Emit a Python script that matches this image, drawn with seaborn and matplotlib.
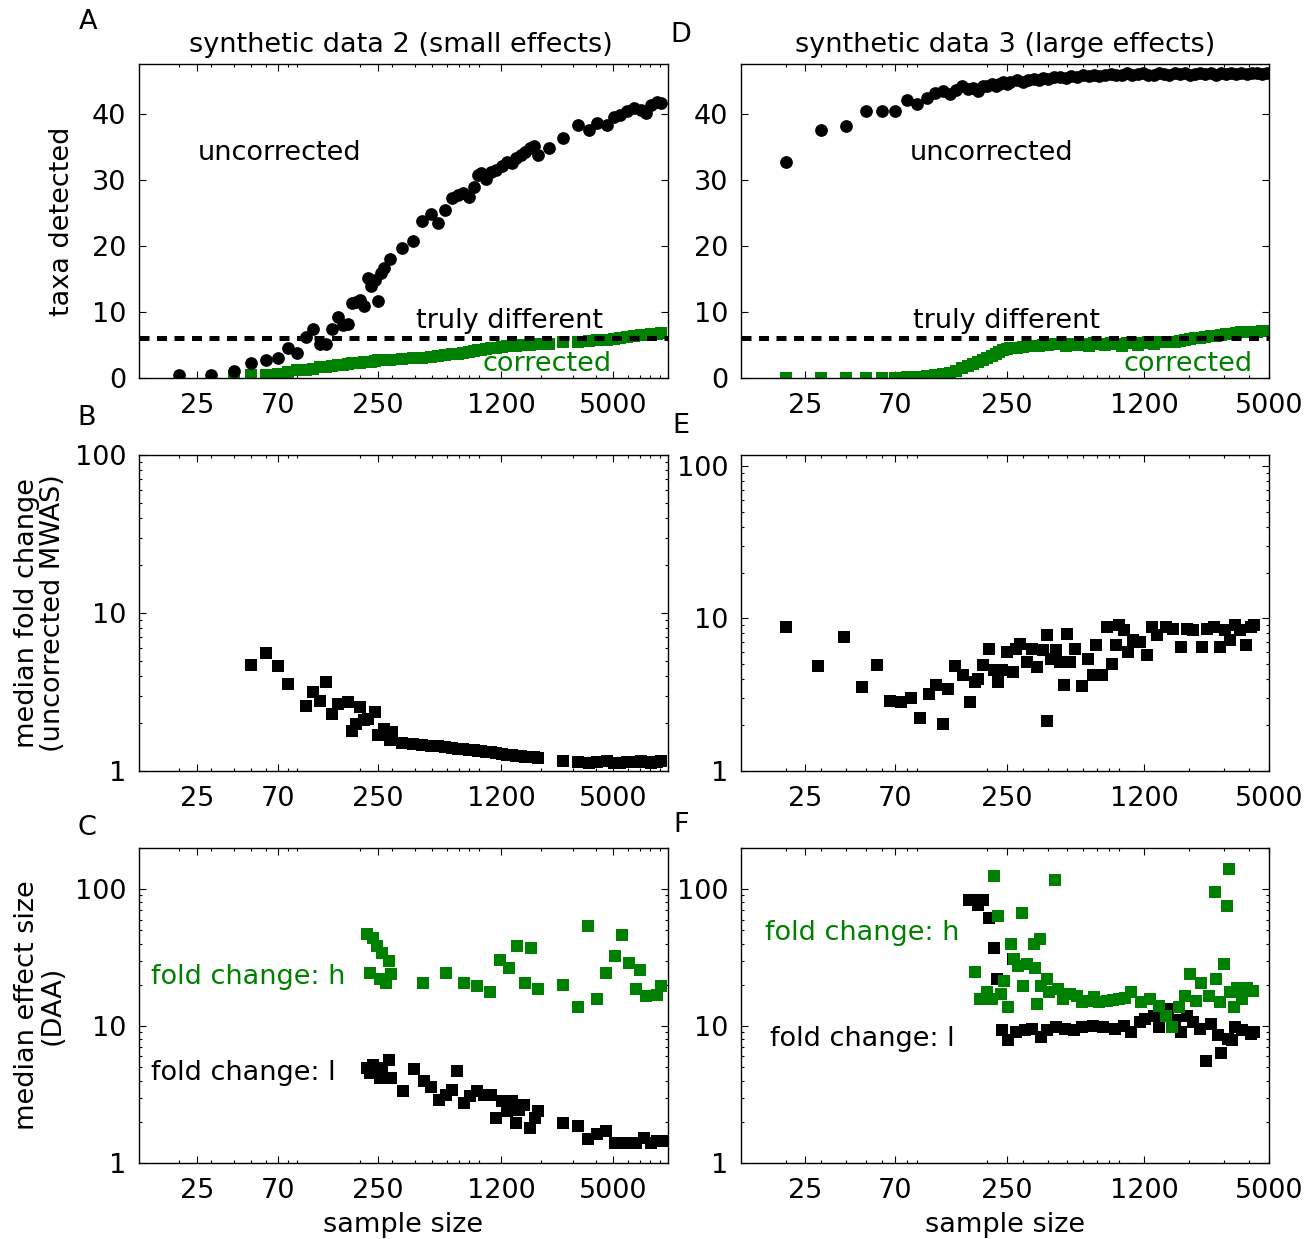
import matplotlib
matplotlib.use("Agg")
import matplotlib.pyplot as plt
import seaborn as sns
from matplotlib.ticker import NullFormatter, FixedLocator

# ---------------- data ----------------
# Panel A (synthetic data 2): taxa detected
A_x = [20, 30, 40, 50, 60, 70, 80, 90, 100, 110, 120, 130, 140, 150, 160, 170, 180, 190, 200,
       210, 220, 230, 240, 250, 260, 270,
       290, 340, 390, 440, 490, 540, 590, 640, 690, 740,
       800, 850, 890, 930, 990,
       1060, 1130, 1210, 1290, 1380, 1440, 1540, 1630, 1720, 1820, 1920,
       2190, 2620, 3200, 3650, 4070, 4590, 5010, 5430, 5940, 6490, 7080, 7570, 8090, 8650, 9160]
A_uncorrected = [0.5, 0.5, 1.1, 2.3, 2.8, 3.1, 4.5, 3.8, 6.2, 7.5, 5.2, 5.1, 7.5, 9.3, 8.1, 8.2, 11.4, 11.5, 11.9,
                 10.9, 15.2, 14.0, 14.9, 11.6, 15.9, 16.7,
                 18.0, 19.7, 20.8, 23.8, 24.8, 23.5, 25.4, 27.3, 27.7, 28.0,
                 27.5, 29.0, 30.8, 31.1, 30.1,
                 31.3, 31.6, 32.1, 32.8, 32.6, 33.3, 33.8, 34.3, 34.8, 35.1, 33.8,
                 34.8, 36.4, 38.4, 37.6, 38.6, 38.4, 39.6, 39.9, 40.4, 40.9, 40.7, 40.2, 41.4, 41.9, 41.7]
A_x_corr = A_x[2:]
A_corrected = [0.3, 0.4, 0.5, 0.65, 0.9, 1.15, 1.2, 1.3, 1.6, 1.7, 1.8, 1.9, 2.0, 2.1, 2.2, 2.2, 2.3,
               2.4, 2.5, 2.5, 2.6, 2.7, 2.7, 2.8,
               2.8, 2.9, 3.0, 3.1, 3.2, 3.3, 3.5, 3.6, 3.7, 3.8,
               4.0, 4.1, 4.2, 4.3, 4.4,
               4.5, 4.5, 4.7, 4.8, 4.9, 4.9, 5.0, 5.0, 5.0, 5.1, 5.1,
               5.1, 5.5, 5.5, 5.6, 5.7, 5.8, 5.9, 6.0, 6.2, 6.4, 6.5, 6.5, 6.6, 6.7, 6.8]

# Panel D (synthetic data 3): taxa detected
D_x = [20, 30, 40, 50, 60, 70, 80, 90, 100, 110, 120, 130, 140, 150, 160, 170, 180, 190,
       200, 210, 220, 230, 240, 250, 260, 280, 300, 320, 340, 360, 380, 400, 430, 460, 490, 520,
       560, 600, 640, 680, 720, 770, 820, 870, 930, 990, 1050, 1120, 1190, 1260, 1340, 1420, 1510,
       1600, 1700, 1800, 1910, 2030, 2150, 2280, 2420, 2570, 2720, 2890, 3060, 3250, 3440, 3650,
       3870, 4100, 4350, 4610, 4890]
D_uncorrected = [32.8, 37.6, 38.2, 40.5, 40.5, 40.5, 42.1, 41.5, 42.5, 43.2, 43.5, 43.0, 43.7, 44.2, 43.8, 44.0, 43.5, 44.2,
                 44.3, 44.5, 44.2, 44.6, 44.8, 44.5, 44.9, 45.1, 44.9, 45.2, 45.4, 45.1, 45.5, 45.4, 45.6, 45.7, 45.5, 45.8,
                 45.7, 45.9, 45.8, 46.0, 45.8, 45.9, 46.1, 45.9, 46.0, 46.2, 45.9, 46.1, 46.2, 45.9, 46.0, 46.2, 46.1,
                 46.0, 46.2, 46.1, 46.2, 46.0, 46.1, 46.2, 46.1, 46.2, 46.0, 46.2, 46.1, 46.2, 46.1, 46.2,
                 46.1, 46.2, 46.2, 46.1, 46.2]
D_corrected = [0, 0, 0, 0, 0, 0, 0.1, 0.2, 0.3, 0.4, 0.6, 0.8, 1.1, 1.5, 1.8, 2.1, 2.5, 2.8,
               3.1, 3.4, 3.7, 4.0, 4.2, 4.4, 4.5, 4.6, 4.7, 4.8, 4.9, 4.9, 5.0, 5.0, 5.1, 5.1, 4.9, 5.2,
               5.0, 5.2, 4.9, 5.3, 5.2, 5.0, 5.3, 5.2, 4.9, 5.3, 5.3, 5.0, 5.3, 5.4, 5.2, 5.4, 5.4,
               5.5, 5.5, 5.6, 5.8, 5.9, 6.0, 6.1, 6.2, 6.3, 6.4, 6.5, 6.6, 6.7, 6.8, 6.9,
               6.9, 7.0, 7.0, 7.1, 7.1]

# Panel B: median fold change (uncorrected MWAS), synthetic data 2
B_x = [50, 60, 70, 80, 100, 110, 120, 130, 140, 150, 170, 180, 190, 200, 210, 220, 240, 250, 270, 290, 300,
       340, 390, 440, 490, 540, 590, 640, 690, 740, 800, 850, 890, 930, 990, 1060, 1130, 1210, 1290, 1380,
       1440, 1540, 1630, 1720, 1820, 1920, 2620, 3200, 3650, 4070, 4590, 5010, 5430, 5940, 6490, 7080,
       7570, 8090, 8650, 9160]
B_fold = [4.70, 5.62, 4.63, 3.55, 2.59, 3.15, 2.76, 3.64, 2.30, 2.66, 2.72, 1.78, 1.99, 2.53, 2.11, 2.14, 2.35, 1.68, 1.85, 1.56, 1.76,
          1.51, 1.49, 1.47, 1.45, 1.43, 1.41, 1.39, 1.38, 1.37, 1.36, 1.35, 1.34, 1.33, 1.32, 1.31, 1.30, 1.28, 1.27, 1.26,
          1.25, 1.24, 1.23, 1.22, 1.22, 1.21, 1.16, 1.14, 1.13, 1.14, 1.15, 1.12, 1.13, 1.14, 1.14, 1.16,
          1.14, 1.12, 1.14, 1.15]

# Panel E: median fold change (uncorrected MWAS), synthetic data 3
E_x = [20, 29, 39, 48, 57, 66, 75, 84, 93, 103, 111, 120, 127, 138, 151, 164, 173, 180, 191, 205,
       215, 227, 238, 252, 268, 279, 290, 314, 333, 354, 376, 394, 398, 415, 440, 458, 482, 495, 515, 547,
       593, 629, 668, 695, 738, 783, 831, 875, 900, 955, 993, 1054, 1140, 1236, 1312, 1393, 1538, 1664, 1840, 1950,
       2110, 2330, 2475, 2680, 2845, 3020, 3205, 3400, 3610, 3830, 4060, 4230]
E_fold = [8.81, 4.87, 7.57, 3.54, 4.92, 2.89, 2.82, 3.00, 2.21, 3.20, 3.67, 2.02, 3.45, 4.87, 4.23, 2.85, 3.82, 4.02, 4.98, 6.34,
          4.56, 3.82, 4.56, 6.03, 4.45, 6.34, 6.84, 5.18, 6.34, 4.80, 6.18, 2.14, 7.77, 5.45, 6.18, 5.18, 3.67, 7.96, 5.18, 6.34,
          3.63, 5.39, 4.23, 6.67, 4.23, 8.81, 5.05, 6.67, 9.04, 8.38, 6.03, 7.20, 7.02, 5.73, 8.81, 7.77, 8.81, 8.59, 6.50, 8.59,
          8.38, 6.50, 8.59, 8.81, 6.50, 8.38, 7.20, 9.04, 8.38, 6.67, 8.81, 9.04]

# Panel C: median effect size (DAA), synthetic data 2
C_h_x = [218, 227, 235, 248, 257, 263, 277, 287, 296, 443, 591, 743, 887, 1035, 1183, 1320, 1473, 1632, 1758, 1923,
         2620, 3170, 3610, 4070, 4550, 5080, 5550, 6070, 6630, 7020, 7570, 8650, 9160]
C_h = [47.0, 24.5, 44.0, 38.7, 22.0, 34.3, 20.5, 29.8, 23.9, 20.5, 24.3, 20.5, 19.7, 17.8, 30.3, 26.7, 38.7, 20.8, 37.2, 18.8,
       20.0, 13.7, 53.5, 15.9, 24.5, 32.4, 46.0, 28.7, 18.6, 25.5, 16.7, 16.9, 19.7]
C_l_x = [218, 227, 235, 248, 257, 263, 287, 296, 346, 396, 447, 494, 545, 595, 645, 686,
         743, 811, 887, 969, 1059, 1130, 1208, 1291, 1380, 1442, 1508, 1611, 1722, 1840, 1923, 2620,
         3170, 3610, 4070, 4550, 5080, 5680, 6200, 6630, 7400, 8010, 8650, 9250]
C_l = [4.92, 4.52, 5.20, 4.65, 4.16, 4.92, 5.65, 4.16, 3.33, 4.87, 3.94, 3.62, 2.90, 3.16, 3.43, 4.73,
       2.75, 3.07, 3.33, 3.16, 3.16, 2.14, 2.82, 2.39, 2.82, 1.97, 2.45, 2.67, 1.81, 2.14, 2.39, 1.97,
       1.86, 1.49, 1.64, 1.71, 1.41, 1.41, 1.41, 1.41, 1.53, 1.41, 1.45, 1.45]

# Panel F: median effect size (DAA), synthetic data 3
F_h_x = [173, 184, 199, 211, 215, 227, 233, 243, 253, 261, 273, 285, 296, 302, 314, 340, 347, 354, 365, 368,
         398, 406, 434, 449, 476, 515, 558, 593, 642, 680, 720, 783, 840, 900, 960, 1035, 1156, 1277, 1422, 1540,
         1653, 1790, 1915, 2030, 2180, 2290, 2530, 2685, 2730, 2845, 2990, 3085, 3170, 3205, 3335, 3470, 3680,
         3905, 4145]
F_h = [24.8, 15.8, 17.6, 15.8, 125, 63.8, 17.1, 21.4, 13.7, 40.0, 30.7, 27.5, 66.7, 19.7, 28.2, 40.0, 26.7, 14.5, 43.5, 19.7,
       22.0, 17.6, 116, 18.6, 15.8, 17.1, 16.7, 14.9, 15.3, 16.2, 15.0, 15.3, 15.6, 15.8, 16.0, 17.6, 14.9, 15.9, 14.1, 11.9,
       9.8, 13.7, 16.7, 23.9, 15.3, 20.8, 16.7, 95.7, 22.0, 14.9, 28.2, 75.9, 141, 17.6, 13.7, 19.1, 15.8,
       19.1, 18.1]
F_l_x = [163, 173, 180, 191, 203, 215, 224, 238, 253, 268, 279, 308, 333, 368, 398, 440, 486, 537, 593, 668,
         752, 864, 955, 1035, 1140, 1210, 1339, 1431, 1570, 1700, 1840, 1950, 2110, 2270, 2430, 2575, 2790,
         2900, 3120, 3270, 3400, 3680, 4060, 4200]
F_l = [84.1, 84.1, 76.6, 83.2, 62.1, 37.2, 22.0, 9.31, 7.87, 30.7, 9.05, 9.31, 9.57, 8.32, 9.31, 9.84, 9.57, 9.31, 9.84, 10.1,
       9.84, 9.57, 10.1, 9.05, 10.7, 11.3, 11.9, 9.84, 13.3, 11.0, 9.05, 11.9, 10.7, 9.57, 5.56, 10.4, 8.57,
       6.41, 8.09, 7.87, 9.84, 9.31, 8.81, 9.0]

truly_different = 6
x_ticks = [25, 70, 250, 1200, 5000]
x_ticklabels = ["25", "70", "250", "1200", "5000"]
count_ticks = [0, 10, 20, 30, 40]
log_ticks = [1, 10, 100]
log_ticklabels = ["1", "10", "100"]

GREEN = "#008000"
FS = 19.5

# ---------------- figure ----------------
sns.set_style("white")
plt.rcParams["font.family"] = ["DejaVu Sans"]
plt.rcParams["text.color"] = "black"
plt.rcParams["axes.labelcolor"] = "black"
plt.rcParams["xtick.color"] = "black"
plt.rcParams["ytick.color"] = "black"
plt.rcParams["xtick.direction"] = "in"
plt.rcParams["ytick.direction"] = "in"

W, H = 1315, 1239
fig = plt.figure(figsize=(W / 100, H / 100), dpi=100)


def box(l, t, r, b):
    return [l / W, 1 - b / H, (r - l) / W, (b - t) / H]


axA = fig.add_axes(box(139, 64, 668, 378))
axD = fig.add_axes(box(741, 64, 1269, 378))
axB = fig.add_axes(box(139, 455, 668, 771))
axE = fig.add_axes(box(741, 455, 1269, 771))
axC = fig.add_axes(box(139, 848, 668, 1163))
axF = fig.add_axes(box(741, 848, 1269, 1163))

S_CIRC = 84
S_SQ = 78


def style(ax, xmax):
    ax.set_xscale("log")
    ax.set_xlim(12, xmax)
    ax.xaxis.set_major_locator(FixedLocator(x_ticks))
    ax.set_xticklabels(x_ticklabels)
    ax.xaxis.set_minor_formatter(NullFormatter())
    ax.yaxis.set_minor_formatter(NullFormatter())
    for sp in ax.spines.values():
        sp.set_visible(True)
        sp.set_color("black")
        sp.set_linewidth(1.0)
    ax.tick_params(which="both", direction="in", top=True, right=True, bottom=True, left=True,
                   colors="black", labelsize=FS, width=0.8)
    ax.tick_params(which="major", length=5)
    ax.tick_params(which="minor", length=2.5)
    ax.tick_params(axis="x", which="major", pad=11)
    ax.tick_params(axis="y", which="major", pad=9)
    ax.set_xlabel("")
    ax.set_ylabel("")


# ---- A ----
sns.scatterplot(x=A_x_corr, y=A_corrected, ax=axA, color=GREEN, marker="s", s=S_SQ, linewidth=0, zorder=2)
sns.scatterplot(x=A_x, y=A_uncorrected, ax=axA, color="black", marker="o", s=S_CIRC, linewidth=0, zorder=3)
axA.axhline(truly_different, color="black", lw=3.6, linestyle=(0, (2.0, 1.5)), zorder=4)
style(axA, 10000)
axA.set_ylim(0, 47.6)
axA.set_yticks(count_ticks)

# ---- D ----
sns.scatterplot(x=D_x, y=D_corrected, ax=axD, color=GREEN, marker="s", s=S_SQ, linewidth=0, zorder=2)
sns.scatterplot(x=D_x, y=D_uncorrected, ax=axD, color="black", marker="o", s=S_CIRC, linewidth=0, zorder=3)
axD.axhline(truly_different, color="black", lw=3.6, linestyle=(0, (2.0, 1.5)), zorder=4)
style(axD, 5000)
axD.set_ylim(0, 47.6)
axD.set_yticks(count_ticks)

# ---- B ----
sns.scatterplot(x=B_x, y=B_fold, ax=axB, color="black", marker="s", s=S_SQ, linewidth=0, zorder=3)
style(axB, 10000)
axB.set_yscale("log")
axB.set_ylim(1, 100)
axB.set_yticks(log_ticks)
axB.set_yticklabels(log_ticklabels)
axB.yaxis.set_minor_formatter(NullFormatter())

# ---- E ----
sns.scatterplot(x=E_x, y=E_fold, ax=axE, color="black", marker="s", s=S_SQ, linewidth=0, zorder=3)
style(axE, 5000)
axE.set_yscale("log")
axE.set_ylim(1, 118)
axE.set_yticks(log_ticks)
axE.set_yticklabels(log_ticklabels)
axE.yaxis.set_minor_formatter(NullFormatter())

# ---- C ----
sns.scatterplot(x=C_l_x, y=C_l, ax=axC, color="black", marker="s", s=S_SQ, linewidth=0, zorder=2)
sns.scatterplot(x=C_h_x, y=C_h, ax=axC, color=GREEN, marker="s", s=S_SQ, linewidth=0, zorder=3)
style(axC, 10000)
axC.set_yscale("log")
axC.set_ylim(1, 200)
axC.set_yticks(log_ticks)
axC.set_yticklabels(log_ticklabels)
axC.yaxis.set_minor_formatter(NullFormatter())

# ---- F ----
sns.scatterplot(x=F_l_x, y=F_l, ax=axF, color="black", marker="s", s=S_SQ, linewidth=0, zorder=2)
sns.scatterplot(x=F_h_x, y=F_h, ax=axF, color=GREEN, marker="s", s=S_SQ, linewidth=0, zorder=3)
style(axF, 5000)
axF.set_yscale("log")
axF.set_ylim(1, 200)
axF.set_yticks(log_ticks)
axF.set_yticklabels(log_ticklabels)
axF.yaxis.set_minor_formatter(NullFormatter())

# ---------------- annotations ----------------
def atext(ax, x, y, s, color, ha="center"):
    ax.text(x, y, s, transform=ax.transAxes, fontsize=FS, ha=ha, va="center", color=color)


atext(axA, 0.265, 0.716, "uncorrected", "black")
atext(axA, 0.70, 0.180, "truly different", "black")
atext(axA, 0.771, 0.044, "corrected", GREEN)
atext(axD, 0.475, 0.716, "uncorrected", "black")
atext(axD, 0.502, 0.180, "truly different", "black")
atext(axD, 0.847, 0.044, "corrected", GREEN)
atext(axC, 0.023, 0.590, "fold change: h", GREEN, ha="left")
atext(axC, 0.023, 0.285, "fold change: l", "black", ha="left")
atext(axF, 0.045, 0.729, "fold change: h", GREEN, ha="left")
atext(axF, 0.055, 0.393, "fold change: l", "black", ha="left")


def ftext(x, y, s, **k):
    fig.text(x / W, 1 - y / H, s, fontsize=FS, color="black", **k)


# titles
ftext(401, 52, "synthetic data 2 (small effects)", ha="center", va="baseline")
ftext(1005, 52, "synthetic data 3 (large effects)", ha="center", va="baseline")
# panel letters
ftext(88, 29, "A", ha="center", va="baseline")
ftext(681, 42, "D", ha="center", va="baseline")
ftext(87, 425, "B", ha="center", va="baseline")
ftext(681, 433, "E", ha="center", va="baseline")
ftext(87, 835, "C", ha="center", va="baseline")
ftext(681, 832, "F", ha="center", va="baseline")
# axis labels
ftext(62, 221, "taxa detected", rotation=90, ha="center", va="center")
ftext(40, 613, "median fold change\n(uncorrected MWAS)", rotation=90, ha="center", va="center",
      multialignment="center", linespacing=1.0)
ftext(40, 1005, "median effect size\n(DAA)", rotation=90, ha="center", va="center",
      multialignment="center", linespacing=1.0)
ftext(403.5, 1225, "sample size", ha="center", va="center")
ftext(1005, 1225, "sample size", ha="center", va="center")

fig.savefig("out.png", dpi=100)
